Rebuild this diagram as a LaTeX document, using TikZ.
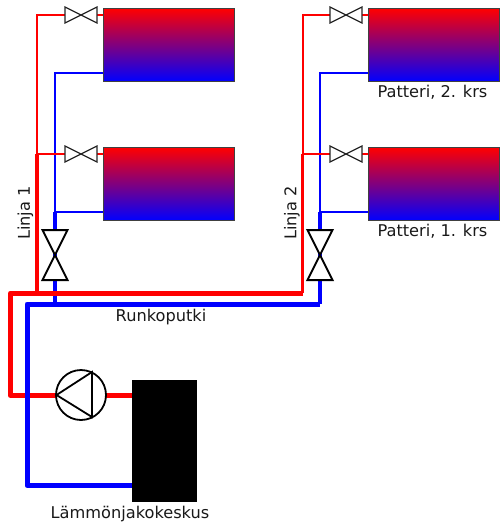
\documentclass[tikz,border=0pt]{standalone}
\usepackage{fontspec}
\setmainfont{DejaVu Sans}
\usetikzlibrary{calc}

\begin{document}
\begin{tikzpicture}[x=1pt,y=-1pt,
  every node/.style={inner sep=0pt, outer sep=0pt, font=\fontsize{16.2}{19}\selectfont, text=black!90},
  radiator/.style={rectangle, draw=black!75, line width=1pt, top color=red, bottom color=blue, minimum width=131pt, minimum height=73pt},
  valve/.style={draw=black!85, fill=white, line width=1.2pt, line join=miter},
  bigvalve/.style={draw=black, fill=white, line width=2pt, line join=miter},
  hotthin/.style={draw=red, line width=2pt},
  hotmid/.style={draw=red, line width=3.4pt},
  hotmain/.style={draw=red, line width=5pt, line join=round},
  coldthin/.style={draw=blue, line width=2pt},
  coldmid/.style={draw=blue, line width=3.4pt},
  coldmain/.style={draw=blue, line width=5pt, line join=round}]
\useasboundingbox (0,0) rectangle (499,523);

\coordinate (A) at (37,15);
\coordinate (B) at (37,154);
\coordinate (C) at (37,293);
\coordinate (D) at (55,72.5);
\coordinate (E) at (55,211.5);
\coordinate (F) at (55,304);
\coordinate (G) at (302.5,15);
\coordinate (H) at (302.5,154);
\coordinate (I) at (302.5,293);
\coordinate (J) at (320,72.5);
\coordinate (K) at (320,211.5);
\coordinate (L) at (320,304);
\coordinate (M) at (10.3,293);
\coordinate (N) at (10.3,395.5);
\coordinate (O) at (27,304);
\coordinate (P) at (27,485.5);

\coordinate (V1) at (81,15);
\coordinate (V2) at (81,154);
\coordinate (V3) at (346,15);
\coordinate (V4) at (346,154);
\coordinate (V5) at (55,255);
\coordinate (V6) at (320,255);

\node[radiator] (R1) at (168.5,45) {};
\node[radiator] (R2) at (168.5,184) {};
\node[radiator] (R3) at (433.5,45) {};
\node[radiator] (R4) at (433.5,184) {};
\node[rectangle, fill=black, minimum width=65pt, minimum height=122pt] (boiler) at (164.5,440.5) {};

\draw[hotthin] (V1) -- (A) -- (B); %1
\draw[hotthin] (V1) -- (R1.west |- V1);
\draw[coldthin] (R1.west |- D) -- (D) -- (E);
\draw[hotthin] (V2) -- (B);
\draw[hotthin] (V2) -- (R2.west |- V2);
\draw[coldthin] (R2.west |- E) -- (E);
\draw[hotmid] (B) -- (C);
\draw[coldmid] (E) -- (F);
%
\draw[hotthin] (V3) -- (G) -- (H); %2
\draw[hotthin] (V3) -- (R3.west |- V3);
\draw[coldthin] (R3.west |- J) -- (J) -- (K);
\draw[hotthin] (V4) -- (H);
\draw[hotthin] (V4) -- (R4.west |- V4);
\draw[coldthin] (R4.west |- K) -- (K);
\draw[hotmid] (H) -- (I);
\draw[coldmid] (K) -- (L);
%
\draw[hotmain] (boiler.west |- N) -- (N) -- (M) -- (I);
\draw[coldmain] (boiler.west |- P) -- (P) -- (O) -- (L);
\node[circle, draw=black, fill=white, line width=1.8pt, minimum size=50pt] (pump) at (81,395) {};
\draw[line width=1.8pt, line join=miter] (56.5,395) -- (92,372) -- (92,417) -- cycle;

\draw[valve] (V1) -- ++(-16,-8) -- ++(0,16) -- cycle;
\draw[valve] (V1) -- ++(16,-8) -- ++(0,16) -- cycle;
\draw[valve] (V2) -- ++(-16,-8) -- ++(0,16) -- cycle;
\draw[valve] (V2) -- ++(16,-8) -- ++(0,16) -- cycle;
\draw[valve] (V3) -- ++(-16,-8) -- ++(0,16) -- cycle;
\draw[valve] (V3) -- ++(16,-8) -- ++(0,16) -- cycle;
\draw[valve] (V4) -- ++(-16,-8) -- ++(0,16) -- cycle;
\draw[valve] (V4) -- ++(16,-8) -- ++(0,16) -- cycle;
\draw[bigvalve] (V5) -- ++(-12.5,-25) -- ++(25,0) -- cycle;
\draw[bigvalve] (V5) -- ++(-12.5,25) -- ++(25,0) -- cycle;
\draw[bigvalve] (V6) -- ++(-12.5,-25) -- ++(25,0) -- cycle;
\draw[bigvalve] (V6) -- ++(-12.5,25) -- ++(25,0) -- cycle;

\node[rotate=90] (line1) at (25.5,213) {Linja 1};
\node[rotate=90] (line2) at (292,213) {Linja 2};
\node (runko) at (161,317.5) {Runkoputki};
\node (upper) at (432.5,92.5) {Patteri, 2. krs};
\node (lower) at (432.5,231.5) {Patteri, 1. krs};
\node (centre) at (130,514.5) {Lämmönjakokeskus};
\end{tikzpicture}
\end{document}
